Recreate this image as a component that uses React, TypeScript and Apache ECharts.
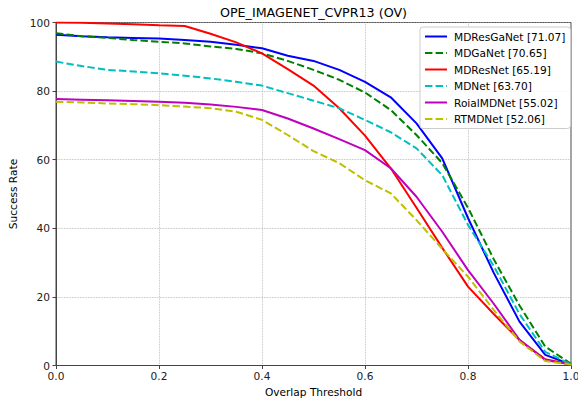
import React, { useEffect, useRef } from "react";
import * as echarts from "echarts";

const thresholds = [0, 0.05, 0.1, 0.15, 0.2, 0.25, 0.3, 0.35, 0.4, 0.45, 0.5, 0.55, 0.6, 0.65, 0.7, 0.75, 0.8, 0.85, 0.9, 0.95, 1.0];

const mdResGaNet = [96.4, 96.0, 95.7, 95.5, 95.3, 94.9, 94.4, 93.5, 92.5, 90.3, 88.8, 86.2, 82.7, 78.2, 70.6, 60.4, 43, 27, 12.8, 3.1, 0.3];
const mdGaNet = [96.9, 96.0, 95.5, 94.9, 94.4, 93.9, 93.0, 92.3, 91.0, 88.8, 86.2, 83.3, 79.6, 74.5, 67.2, 59, 46, 31, 17.5, 5.5, 0.5];
const mdResNet = [100, 99.9, 99.7, 99.5, 99.2, 99.0, 96.7, 94.2, 91, 86.4, 81.6, 75, 67, 57.5, 46, 34.3, 23, 15, 7.4, 1.8, 0.3];
const mdNet = [88.6, 87.3, 86.2, 85.7, 85.2, 84.5, 83.7, 82.7, 81.6, 79.4, 77.2, 75, 71.6, 68, 63.3, 55.5, 41, 29, 15, 4, 0.3];
const roialMDNet = [77.7, 77.5, 77.3, 77.1, 76.9, 76.6, 76.1, 75.4, 74.5, 72, 69.1, 66, 62.8, 57.5, 49.2, 39, 27.8, 18, 7.5, 1.6, 0.3];
const rtmdNet = [76.9, 76.7, 76.4, 76.2, 75.9, 75.5, 75, 74, 71.6, 67.2, 62.5, 59, 54, 50.2, 42.4, 34, 25.9, 16.2, 7, 1.3, 0.3];

const seriesNames = ["MDResGaNet [71.07]", "MDGaNet [70.65]", "MDResNet [65.19]", "MDNet [63.70]", "RoialMDNet [55.02]", "RTMDNet [52.06]"];
const seriesValues = [mdResGaNet, mdGaNet, mdResNet, mdNet, roialMDNet, rtmdNet];
const seriesColors = ["#0000ff", "#008000", "#ff0000", "#00bfbf", "#bf00bf", "#bfbf00"];
const seriesDashed = [false, true, false, true, false, true];

const xTicks = [0, 0.2, 0.4, 0.6, 0.8, 1.0];
const yTicks = [0, 20, 40, 60, 80, 100];

const FONT = "DejaVu Sans";
const FS = 10.6;

export default function App() {
  const ref = useRef<HTMLDivElement>(null);
  useEffect(() => {
    if (!ref.current) return;
    const chart = echarts.init(ref.current, undefined, { renderer: "svg" });
    const axisColor = "#444";
    chart.setOption({
      animation: false,
      backgroundColor: "#ffffff",
      textStyle: { fontFamily: FONT },
      graphic: [
        {
          type: "text",
          x: 313.5,
          y: 6,
          style: {
            text: "OPE_IMAGENET_CVPR13 (OV)",
            fontFamily: FONT,
            fontSize: 12.7,
            fill: "#000",
            textAlign: "center",
            textVerticalAlign: "top",
          },
        },
      ],
      grid: {
        left: 56,
        right: 7,
        top: 22.5,
        bottom: 32.5,
        containLabel: false,
        outerBoundsMode: "none",
        show: true,
        borderColor: axisColor,
        borderWidth: 1,
        backgroundColor: "transparent",
      },
      legend: {
        orient: "vertical",
        left: 420,
        top: 27,
        align: "left",
        itemWidth: 22,
        itemHeight: 12,
        itemGap: 5.5,
        padding: [4, 5, 4, 4],
        backgroundColor: "rgba(255,255,255,0.85)",
        borderColor: "#cccccc",
        borderWidth: 1,
        borderRadius: 3,
        itemStyle: { opacity: 0 },
        lineStyle: { opacity: 1 },
        textStyle: { fontFamily: FONT, fontSize: FS, color: "#000", padding: [0, 0, 0, 2] },
        data: seriesNames,
      },
      xAxis: {
        type: "value",
        min: 0,
        max: 1,
        interval: 0.2,
        name: "Overlap Threshold",
        nameLocation: "middle",
        nameGap: 20,
        nameTextStyle: { fontFamily: FONT, fontSize: FS, color: "#000" },
        axisLine: { show: true, onZero: false, lineStyle: { color: axisColor, width: 1 } },
        axisTick: { show: true, length: 3.5, lineStyle: { color: axisColor } },
        axisLabel: {
          fontFamily: FONT,
          fontSize: FS,
          color: "#222",
          margin: 5,
          formatter: (v: number) => (xTicks.includes(Math.round(v * 10) / 10) ? v.toFixed(1) : ""),
        },
        splitLine: { show: true, lineStyle: { type: "dotted", color: "#b0b0b0", width: 0.8 } },
      },
      yAxis: {
        type: "value",
        min: 0,
        max: 100,
        interval: 20,
        name: "Success Rate",
        nameLocation: "middle",
        nameGap: 27,
        nameTextStyle: { fontFamily: FONT, fontSize: FS, color: "#000" },
        axisLine: { show: true, onZero: false, lineStyle: { color: axisColor, width: 1 } },
        axisTick: { show: true, length: 3.5, lineStyle: { color: axisColor } },
        axisLabel: {
          fontFamily: FONT,
          fontSize: FS,
          color: "#222",
          margin: 6,
          formatter: (v: number) => (yTicks.includes(v) ? String(v) : ""),
        },
        splitLine: { show: true, lineStyle: { type: "dotted", color: "#b0b0b0", width: 0.8 } },
      },
      series: seriesNames.map((name, i) => ({
        name,
        type: "line",
        symbol: "none",
        showSymbol: false,
        color: seriesColors[i],
        lineStyle: {
          color: seriesColors[i],
          width: 2,
          type: seriesDashed[i] ? [7.4, 3.2] : "solid",
        },
        data: thresholds.map((t, j) => [t, seriesValues[i][j]]),
      })),
    });
    return () => chart.dispose();
  }, []);
  return <div ref={ref} style={{ width: 578, height: 398, position: "absolute", left: 0, top: 0 }} />;
}
